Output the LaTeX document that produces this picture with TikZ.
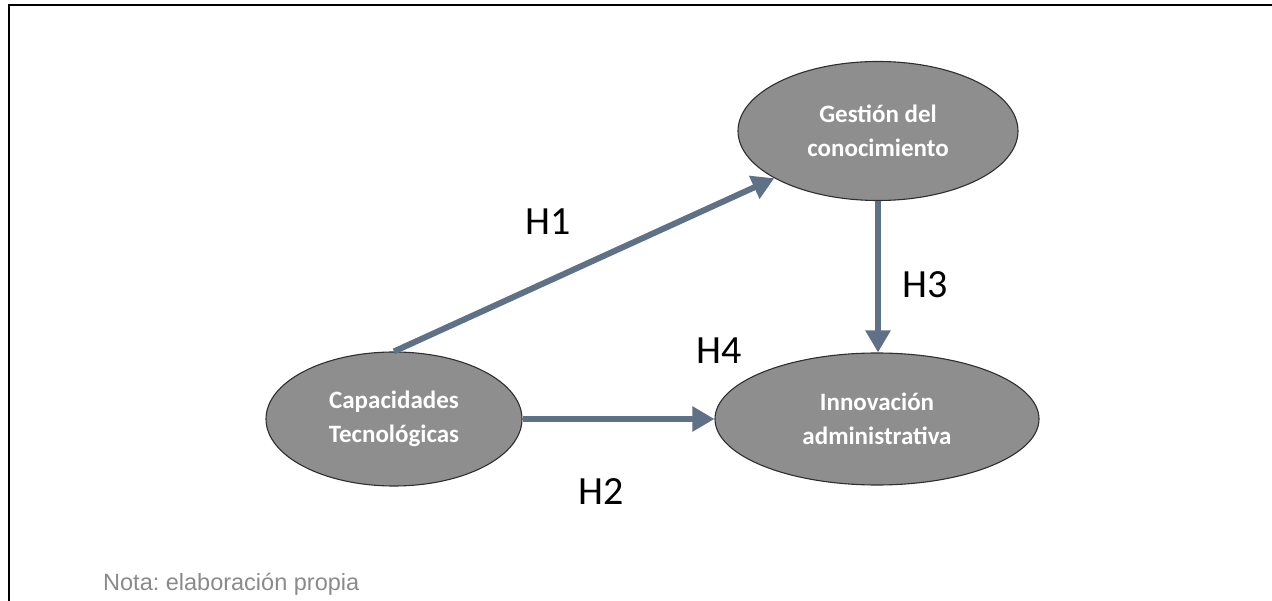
\documentclass[tikz,border=0pt]{standalone}
\usepackage{fontspec}
\setmainfont{Carlito}
\newfontfamily\notefont{Liberation Sans}
\usetikzlibrary{shapes.geometric,arrows.meta}
\definecolor{ellfill}{HTML}{8E8E8E}
\definecolor{ellline}{HTML}{2E2E2E}
\definecolor{arrowcol}{HTML}{5F7186}
\definecolor{notecol}{HTML}{8A8A8A}
\frenchspacing
\begin{document}
\begin{tikzpicture}[x=1pt,y=-1pt,
  construct/.style={ellipse, draw=ellline, line width=1.1pt, fill=ellfill,
    inner sep=0pt, text=white, align=center,
    font=\bfseries\fontsize{25}{34}\selectfont},
  path/.style={draw=arrowcol, line width=6pt,
    -{Triangle[length=22pt,width=24pt]}},
  hyp/.style={font=\fontsize{40}{48}\selectfont, inner sep=0pt}]
\useasboundingbox (0,0) rectangle (1272,601);

% open frame: top and left rules only
\draw[line width=2.6pt] (9,601) -- (9,5) -- (1272,5);

% constructs
\node[construct, minimum width=256pt, minimum height=134pt] (cap) at (394,419)
  {Capacidades\\Tecnológicas};
\node[construct, minimum width=280pt, minimum height=139pt] (ges) at (878,131)
  {Gestión del\\conocimiento};
\node[construct, minimum width=324pt, minimum height=132pt] (inn) at (877,419)
  {Innovación\\administrativa};

% hypothesised relations
\draw[path] (cap.north) -- (ges);
\draw[path] (cap.east) -- (inn.west);
\draw[path] (ges.south) -- (ges.south |- inn.north);

% hypothesis labels
\node[hyp] (h1) at (548,222) {H1};
\node[hyp] (h2) at (601,492) {H2};
\node[hyp] (h3) at (925,285) {H3};
\node[hyp] (h4) at (719,351) {H4};

% source note
\node[anchor=base west, inner sep=0pt, text=notecol,
  font=\notefont\fontsize{23.5}{28}\selectfont] (nota) at (103,590)
  {Nota: elaboración propia};
\end{tikzpicture}
\end{document}
